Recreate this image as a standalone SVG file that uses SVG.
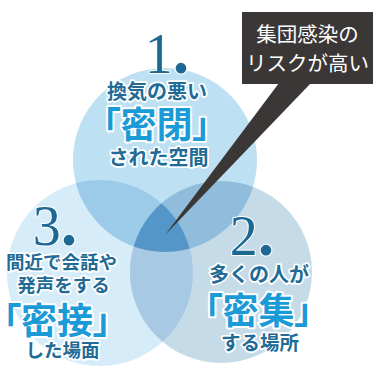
<svg xmlns="http://www.w3.org/2000/svg" width="375" height="366" viewBox="0 0 375 366">
<style>
.num{font-family:"Liberation Serif","DejaVu Serif",serif;font-size:56px;fill:#1d6993;text-anchor:middle;stroke:#fff;stroke-width:2;paint-order:stroke;stroke-linejoin:round}
.dot{font-weight:bold;font-size:66px}
.sub{font-family:"Noto Sans CJK JP",sans-serif;font-weight:bold;fill:#216b96;text-anchor:middle;stroke:#fff;stroke-width:3.5;paint-order:stroke;stroke-linejoin:round}
.key{font-family:"Noto Sans CJK JP",sans-serif;font-weight:bold;font-size:36px;fill:#1a9ad7;text-anchor:middle;stroke:#fff;stroke-width:4;paint-order:stroke;stroke-linejoin:round;font-feature-settings:"palt"}
.call{font-family:"Noto Sans CJK JP",sans-serif;font-size:20.5px;fill:#fff;text-anchor:middle}
</style>
<defs>
<clipPath id="k1"><circle cx="165" cy="160" r="92"/></clipPath>
<clipPath id="k2"><circle cx="221" cy="272" r="91"/></clipPath>
<clipPath id="k3"><circle cx="100" cy="273" r="93"/></clipPath>
</defs>
<rect width="375" height="366" fill="#fff"/>
<g id="set3"><circle cx="100" cy="273" r="93" fill="#d6ecf9"/></g>
<g id="set2"><circle cx="221" cy="272" r="91" fill="#c6dbe8"/></g>
<g id="set1"><circle cx="165" cy="160" r="92" fill="#bde0f2"/></g>
<g id="overlaps">
<circle cx="100" cy="273" r="93" fill="#9ccbe9" clip-path="url(#k1)"/>
<circle cx="221" cy="272" r="91" fill="#90bddb" clip-path="url(#k1)"/>
<circle cx="221" cy="272" r="91" fill="#a8c9e3" clip-path="url(#k3)"/>
<g clip-path="url(#k1)"><circle cx="221" cy="272" r="91" fill="#5596c8" clip-path="url(#k3)"/></g>
</g>
<g id="label1">
<text class="num" x="167" y="73">1<tspan class="dot">.</tspan></text>
<text class="sub" x="157" y="98.5" font-size="20">換気の悪い</text>
<text class="key" x="156.5" y="138">「密閉」</text>
<text class="sub" x="158.5" y="165" font-size="20">された空間</text>
</g>
<g id="label3">
<text class="num" x="55" y="245">3<tspan class="dot">.</tspan></text>
<text class="sub" x="61.5" y="268.5" font-size="18.5">間近で会話や</text>
<text class="sub" x="63.5" y="291.5" font-size="18.5">発声をする</text>
<text class="key" x="57" y="334">「密接」</text>
<text class="sub" x="62.5" y="356.5" font-size="18.5">した場面</text>
</g>
<g id="label2">
<text class="num" x="252" y="255">2<tspan class="dot">.</tspan></text>
<text class="sub" x="259" y="281.5" font-size="20">多くの人が</text>
<text class="key" x="258.5" y="324">「密集」</text>
<text class="sub" x="260" y="350" font-size="19.5">する場所</text>
</g>
<g id="connectors">
<polygon points="279,83 311,83 165,235" fill="#3b3737"/>
</g>
<g id="callout">
<rect x="242" y="12" width="131" height="72" fill="#3b3737"/>
<text class="call" x="307.5" y="41.5">集団感染の</text>
<text class="call" x="307.5" y="70.5">リスクが高い</text>
</g>
</svg>
